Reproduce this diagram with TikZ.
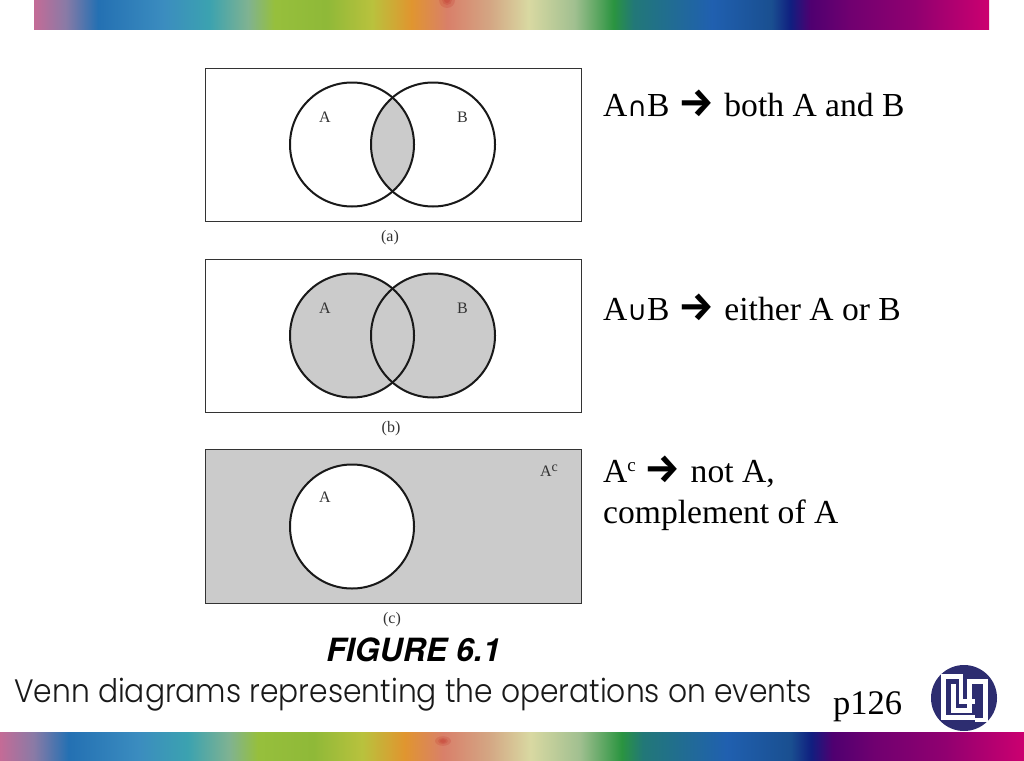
\documentclass[tikz,border=0pt]{standalone}
\usepackage{fontspec}
\usepackage{graphicx}
\setmainfont{Liberation Serif}
\newfontfamily\dv{DejaVu Sans}
\newfontfamily\fira{Fira Sans}
\newfontfamily\hv{TeX Gyre Heros}
\newfontfamily\pop{Poppins Light}
\pgfdeclarehorizontalshading{rainbow}{100bp}{
rgb(0bp)=(.77,.42,.59);rgb(25bp)=(.77,.42,.59);rgb(26.65bp)=(.54,.48,.65);rgb(28.35bp)=(.14,.44,.70);
rgb(31.75bp)=(.23,.55,.75);rgb(34.15bp)=(.23,.635,.69);rgb(36.2bp)=(.50,.70,.57);rgb(37.6bp)=(.59,.75,.235);
rgb(40.3bp)=(.56,.725,.22);rgb(42.7bp)=(.725,.76,.24);rgb(44.75bp)=(.88,.585,.185);rgb(46.65bp)=(.85,.50,.415);
rgb(48.85bp)=(.83,.65,.515);rgb(50.9bp)=(.85,.85,.635);rgb(53.3bp)=(.63,.75,.565);rgb(55.35bp)=(.165,.58,.25);
rgb(56.4bp)=(.133,.47,.47);rgb(60.5bp)=(.125,.375,.69);rgb(63.6bp)=(.10,.31,.565);rgb(64.6bp)=(.063,.12,.50);
rgb(65.65bp)=(.31,0,.44);rgb(67.7bp)=(.44,0,.44);rgb(71.1bp)=(.565,0,.44);rgb(75bp)=(.80,0,.44);rgb(100bp)=(.80,0,.44)}
\definecolor{venngray}{RGB}{203,203,203}
\definecolor{logonavy}{RGB}{45,45,112}
\tikzset{
  x=1pt,y=-1pt,
  bar/.style={shading=rainbow,draw=none},
  vennbox/.style={draw=black!80,line width=1pt},
  venncircle/.style={draw=black!90,line width=2pt},
  small/.style={inner sep=0pt,font=\fontsize{16}{16}\selectfont,text=black!80},
  main/.style={inner sep=0pt,anchor=base west,font=\fontsize{33.6}{33.6}\selectfont},
  logoline/.style={draw=white,line width=4.5pt,line join=miter},
}
\newcommand{\arr}{{\fira\bfseries\fontsize{40}{40}\selectfont →}\hspace{2pt}}
\newcommand{\vcirc}[2]{(#1,#2) circle[radius=62]}
\begin{document}
\begin{tikzpicture}
\useasboundingbox (0,0) rectangle (1024,760);
\fill[white] (0,0) rectangle (1024,760);
% colour bands
\path[bar] (34,0) rectangle (989,30);
\path[bar] (0,732) rectangle (1024,760);
\begin{scope}
\clip (34,0) rectangle (989,30);
\foreach \r in {8,5,3} \fill[red!70!black,opacity=.12] (447,0) circle[radius=\r];
\end{scope}
\begin{scope}
\clip (0,732) rectangle (1024,760);
\foreach \r in {8,5,3} \fill[red!70!black,opacity=.12] (443,741) ellipse[x radius=\r,y radius=.6*\r];
\end{scope}
% panel a
\begin{scope}
\clip \vcirc{352}{144.5};
\fill[venngray] \vcirc{433}{144.5};
\end{scope}
\draw[vennbox] (205.5,68.5) rectangle (581.5,221);
\draw[venncircle] \vcirc{352}{144.5};
\draw[venncircle] \vcirc{433}{144.5};
\node[small] (la) at (325,117) {A};
\node[small] (lb) at (462.5,117) {B};
\node[small] (capa) at (390,238) {(a)};
% panel b
\draw[vennbox] (205.5,259.5) rectangle (581.5,412);
\fill[venngray] \vcirc{352}{335.5} \vcirc{433}{335.5};
\draw[venncircle] \vcirc{352}{335.5};
\draw[venncircle] \vcirc{433}{335.5};
\node[small] (lab) at (325,308) {A};
\node[small] (lbb) at (462.5,308) {B};
\node[small] (capb) at (391,429) {(b)};
% panel c
\draw[vennbox,fill=venngray] (205.5,449.5) rectangle (581.5,603);
\draw[venncircle,fill=white] \vcirc{352}{526.5};
\node[small] (lac) at (325,497) {A};
\node[small] (lcomp) at (549,471) {A\raisebox{5pt}{\fontsize{14}{14}\selectfont c}};
\node[small] (capc) at (392,620) {(c)};
% right-hand texts
\node[main] (t1) at (603,116) {A{\dv\fontsize{27}{27}\selectfont ∩}B \arr{} both A and B};
\node[main] (t2) at (603,320) {A{\dv\fontsize{27}{27}\selectfont ∪}B \arr{} either A or B};
\node[main] (t3) at (603,482) {A\raisebox{11pt}{\fontsize{19}{19}\selectfont c} \arr{} not A,};
\node[main] (t4) at (603,523) {complement of A};
\node[main,font=\fontsize{34.5}{34.5}\selectfont] (page) at (833,714.5) {p126};
% captions
\node[inner sep=0pt,anchor=base] (figt) at (413.5,661) {\hv\bfseries\itshape\fontsize{32}{32}\selectfont FIGURE 6.1};
\node[inner sep=0pt,anchor=base west,text=black!90] (cap) at (14,702) {\pop\fontsize{30}{30}\selectfont\scalebox{.991}[1.08]{Venn diagrams representing the operations on events}};
% logo
\fill[logonavy] (964,698) circle[radius=33];
\begin{scope}[shift={(925,660)},x=.3333pt,y=-.3333pt]
\draw[logoline] (150,172) -- (55,172) -- (55,50) -- (108,50) -- (108,125) -- (150,125);
\draw[logoline] (86,72) -- (86,152) -- (134,152) -- (134,64) -- (182,64) -- (182,180) -- (150,180);
\end{scope}
\end{tikzpicture}
\end{document}
